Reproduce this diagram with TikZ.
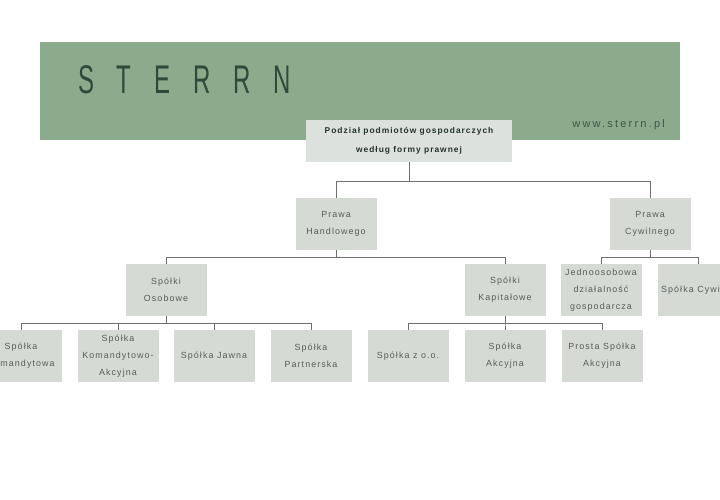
\documentclass[tikz,border=0pt]{standalone}
\usepackage{fontspec}
\setmainfont{Liberation Sans}
\newfontfamily\boxfont[LetterSpace=12]{Liberation Sans}
\newfontfamily\logofont[LetterSpace=95]{Liberation Sans}
\newfontfamily\urlfont[LetterSpace=20]{Liberation Sans}
\usetikzlibrary{calc}
\definecolor{banner}{HTML}{8CAA8C}
\definecolor{boxfill}{HTML}{D5DAD5}
\definecolor{boxtext}{HTML}{585C58}
\definecolor{logo}{HTML}{2E4A3A}
\definecolor{wire}{HTML}{6E706E}
\tikzset{
  box/.style={fill=boxfill,text=boxtext,minimum width=81pt,minimum height=52pt,
    inner sep=0pt,align=center,font=\boxfont\fontsize{8.9}{17}\selectfont},
  link/.style={draw=wire,line width=0.9pt}
}

\begin{document}
\begin{tikzpicture}[x=1pt,y=-1pt]
        \useasboundingbox (0,0) rectangle (720,500);
        \fill[white] (0,0) rectangle (720,500);
        % banner
        \fill[banner] (40,42) rectangle (680,140);
        \node[anchor=west,text=logo,inner sep=0pt,font=\logofont\fontsize{40}{40}\selectfont,xscale=0.6] (logo) at (78,80) {STERRN};
        \node[anchor=east,text=logo!85!banner,inner sep=0pt,font=\urlfont\fontsize{11}{11}\selectfont] (url) at (665,125) {www.sterrn.pl};
        % root
        \node[box,minimum width=206pt,minimum height=42pt,fill=boxfill!80!white,text=logo!70!black,
          font=\boxfont\bfseries\fontsize{8.4}{19}\selectfont] (root) at (409,141)
          {Podział podmiotów gospodarczych\\według formy prawnej};
        % level 1
        \node[box] (ph) at (336,224) {Prawa\\Handlowego};
        \node[box] (pc) at (650,224) {Prawa\\Cywilnego};
        % level 2
        \node[box] (so) at (166,290) {Spółki\\Osobowe};
        \node[box] (sk) at (505,290) {Spółki\\Kapitałowe};
        \node[box] (jdg) at (601,290) {Jednoosobowa\\działalność\\gospodarcza};
        \node[box] (sc) at (698,290) {Spółka Cywilna};
        % level 3
        \node[box] (skom) at (21,356) {Spółka\\Komandytowa};
        \node[box] (ska) at (118,356) {Spółka\\Komandytowo-\\Akcyjna};
        \node[box] (sj) at (214,356) {Spółka Jawna};
        \node[box] (sp) at (311,356) {Spółka\\Partnerska};
        \node[box] (szoo) at (408,356) {Spółka z o.o.};
        \node[box] (sa) at (505,356) {Spółka\\Akcyjna};
        \node[box] (psa) at (602,356) {Prosta Spółka\\Akcyjna};
        % connectors
        \draw[link] (root.south) -- ++(0,19) -| (ph.north);
        \draw[link] (root.south) -- ++(0,19) -| (pc.north);
        \draw[link] (ph.south) -- ++(0,7) -| (so.north);
        \draw[link] (ph.south) -- ++(0,7) -| (sk.north);
        \draw[link] (pc.south) -- ++(0,7) -| (jdg.north);
        \draw[link] (pc.south) -- ++(0,7) -| (sc.north);
        \draw[link] (so.south) -- ++(0,7) -| (skom.north);
        \draw[link] (so.south) -- ++(0,7) -| (ska.north);
        \draw[link] (so.south) -- ++(0,7) -| (sj.north);
        \draw[link] (so.south) -- ++(0,7) -| (sp.north);
        \draw[link] (sk.south) -- ++(0,7) -| (szoo.north);
        \draw[link] (sk.south) -- ++(0,7) -| (sa.north);
        \draw[link] (sk.south) -- ++(0,7) -| (psa.north);
\end{tikzpicture}
\end{document}
